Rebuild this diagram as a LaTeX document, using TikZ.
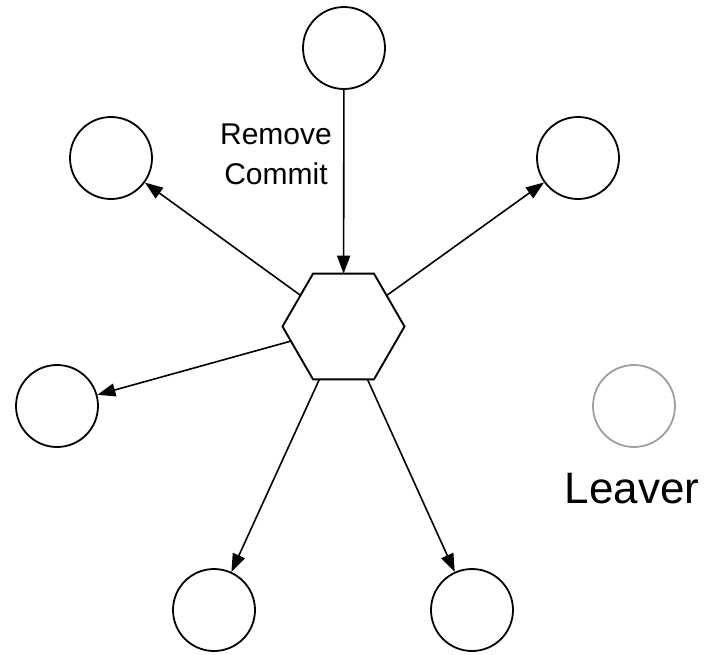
\documentclass[tikz,border=0pt]{standalone}
\usepackage{fontspec}
\setmainfont{Liberation Sans}
\usetikzlibrary{shapes.geometric,arrows.meta}
\begin{document}
\begin{tikzpicture}[x=1pt,y=-1pt,
  member/.style={circle,draw=black,line width=1.8pt,minimum size=82pt,inner sep=0pt},
  leaver/.style={circle,draw=black!38,line width=1.8pt,minimum size=82pt,inner sep=0pt},
  group/.style={regular polygon,regular polygon sides=6,draw=black,line width=1.9pt,
    minimum size=122pt,inner sep=0pt,outer sep=0pt},
  msg/.style={line width=1.6pt,-{Triangle[length=18pt,width=13pt]}},
  caption/.style={inner sep=0pt,align=center}]
\useasboundingbox (0,0) rectangle (711,654);

% central group and its members
\node[group] (hub) at (343.5,326.5) {};
\node[member] (top) at (344,48) {};
\node[member] (ul) at (111,158) {};
\node[member] (ur) at (578,158) {};
\node[member] (lft) at (57,406) {};
\node[member] (bl) at (214,610) {};
\node[member] (br) at (472,610) {};

% the member that leaves
\node[leaver] (gone) at (634,406) {};
\node[caption,anchor=base,font=\fontsize{44}{50}\selectfont] (gonelabel) at (632,503) {Leaver};

% commit fan-out
\draw[msg] (top) -- (hub);
\draw[msg] (hub) -- (ul);
\draw[msg] (hub) -- (ur);
\draw[msg] (hub) -- (lft);
\draw[msg] (hub) -- (bl);
\draw[msg] (hub) -- (br);

\node[caption,font=\fontsize{30}{40}\selectfont] (cmt) at (276,154.5) {Remove\\Commit};
\end{tikzpicture}
\end{document}
